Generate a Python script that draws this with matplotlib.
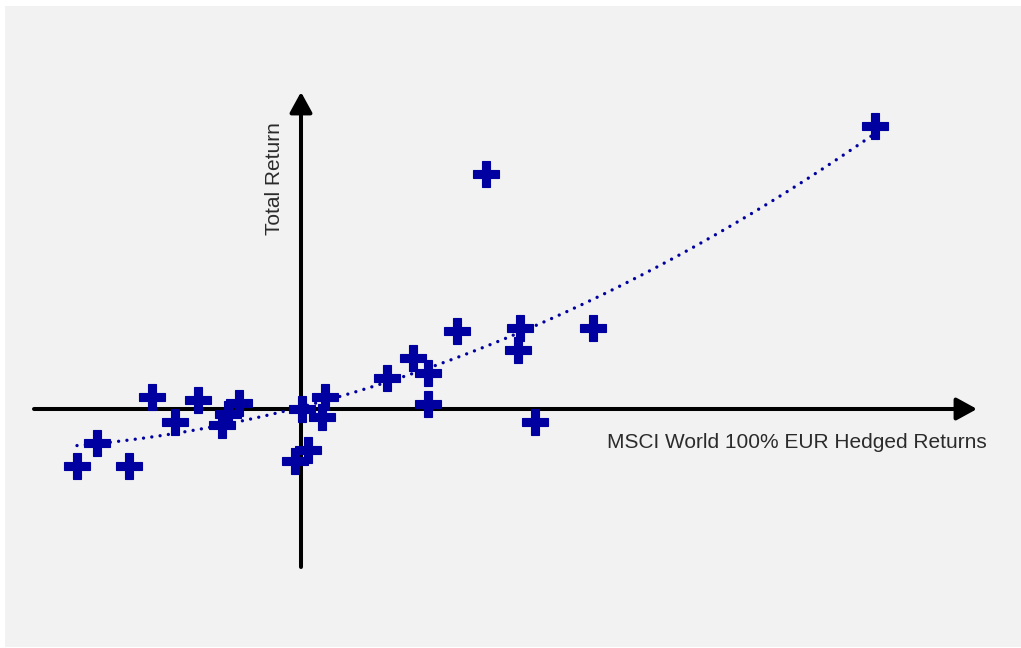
import numpy as np
import matplotlib
matplotlib.use("Agg")
import matplotlib.pyplot as plt
from matplotlib.patches import Rectangle

# Annual returns: benchmark index (x) vs. fund total return (y)
index_returns = [-11.20, -10.20, -8.60, -7.45, -6.30, -5.15, -3.95, -3.65, -3.10,
                 0.05, 1.20, 1.05, 0.35, -0.30, 4.30, 5.60, 6.35, 6.35, 7.80,
                 9.25, 10.95, 10.85, 11.70, 14.60, 28.70]
total_returns = [-2.85, -1.70, -2.85, 0.60, -0.65, 0.45, -0.80, -0.25, 0.30,
                 0.00, 0.60, -0.40, -2.05, -2.60, 1.55, 2.55, 1.80, 0.25, 3.90,
                 11.75, 4.05, 2.95, -0.65, 4.05, 14.15]

x_label = "MSCI World 100% EUR Hedged Returns"
y_label = "Total Return"

W, H, DPI = 1021, 648, 100
PX = 20.0          # pixels per data unit
OX, OY = 301, 409  # origin position in pixels

plt.rcParams["font.family"] = ["Liberation Sans", "DejaVu Sans"]

fig = plt.figure(figsize=(W / DPI, H / DPI), dpi=DPI)
fig.patch.set_facecolor("white")
fig.patches.append(Rectangle((5 / W, 1 / H), 1 - 5 / W, 641 / H,
                             transform=fig.transFigure, facecolor="#f2f2f2",
                             edgecolor="none", zorder=-10))

ax = fig.add_axes([0, 0, 1, 1])
ax.set_zorder(1)
ax.set_facecolor("none")
ax.set_xlim(-OX / PX, (W - OX) / PX)
ax.set_ylim(-(H - OY) / PX, OY / PX)
ax.axis("off")

def px_x(p):
    return (p - OX) / PX

def px_y(p):
    return (OY - p) / PX

arrow = dict(arrowstyle="-|>,head_length=0.62,head_width=0.34", lw=2.9,
             color="black", shrinkA=0, shrinkB=0, mutation_scale=20)
ax.annotate("", xy=(px_x(977), 0), xytext=(px_x(34), 0), arrowprops=arrow, zorder=2)
ax.annotate("", xy=(0, px_y(92)), xytext=(0, px_y(567)), arrowprops=arrow, zorder=2)

xs = np.array(index_returns)
ys = np.array(total_returns)

# quadratic trend line
coef = np.polyfit(xs, ys, 2)
tx = np.linspace(xs.min(), xs.max(), 300)
ax.plot(tx, np.polyval(coef, tx), color="#0000a0", lw=2.4,
        linestyle=(0, (0.01, 2.5)), dash_capstyle="round", zorder=3)

ax.plot(xs, ys, linestyle="none", marker="P", markersize=18.5,
        color="#0000a0", markeredgecolor="#0000a0", markeredgewidth=0.8, zorder=4)

ax.text(px_x(607), px_y(443), x_label, fontsize=15, color="#2b2b2b",
        ha="left", va="center", zorder=5)
ax.text(px_x(274), px_y(179), y_label, fontsize=15, color="#2b2b2b",
        ha="center", va="center", rotation=90, zorder=5)

fig.savefig("out.png", dpi=DPI, facecolor=fig.get_facecolor())
